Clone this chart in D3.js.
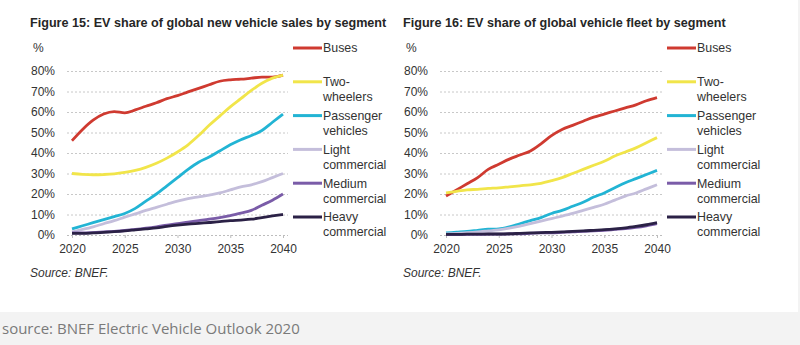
<!DOCTYPE html>
<html>
<head>
<meta charset="utf-8">
<script src="https://cdnjs.cloudflare.com/ajax/libs/d3/7.8.5/d3.min.js"></script>
<style>
  html, body { margin: 0; padding: 0; background: #f3f3f3; }
  svg { display: block; }
  .tick text { font-family: Arial, "Liberation Sans", sans-serif; font-size: 12px; fill: #333; }
  .grid .tick line { stroke: #c8c8c8; stroke-dasharray: 2,2; }
  .lbl { font-family: Arial, "Liberation Sans", sans-serif; font-size: 12px; fill: #333; }
</style>
</head>
<body>
<svg id="chart" width="800" height="345"></svg>
<script>
/* data: values, one value per year 2020..2040 */
var years = d3.range(2020, 2041);
var yTicks = [0, 10, 20, 30, 40, 50, 60, 70, 80];
var xTicks = [2020, 2025, 2030, 2035, 2040];

var segments = ["Buses", "Two-wheelers", "Passenger vehicles", "Light commercial", "Medium commercial", "Heavy commercial"];
var legendLines = [["Buses"], ["Two-", "wheelers"], ["Passenger", "vehicles"], ["Light", "commercial"], ["Medium", "commercial"], ["Heavy", "commercial"]];
var colors = ["#cf3a30", "#f1e54a", "#22b4d4", "#c4bedb", "#7a5ca8", "#2b2146"];

// Figure 15: new vehicle sales
var salesBuses     = [46, 51.5, 56, 59, 60.2, 59.6, 61, 62.8, 64.5, 66.5, 68, 69.8, 71.5, 73.3, 75, 75.7, 76, 76.5, 77, 77, 78];
var salesTwo       = [30, 29.6, 29.4, 29.5, 29.8, 30.5, 31.5, 33, 35, 37.5, 40.5, 44, 48.5, 53.5, 58, 62.5, 66.5, 70.5, 74, 76.5, 78];
var salesPassenger = [3, 4.5, 6, 7.5, 9, 10.5, 13, 16.5, 20, 24, 28, 32, 35.5, 38, 41, 44, 46.5, 48.5, 51, 55, 59];
var salesLight     = [1.5, 2.7, 4, 5.5, 7, 8.7, 10.3, 12, 13.5, 15, 16.5, 17.7, 18.6, 19.5, 20.5, 22, 23.5, 24.5, 26, 28, 30];
var salesMedium    = [1, 1, 1.2, 1.5, 1.8, 2.2, 2.7, 3.3, 4, 4.8, 5.5, 6.3, 7, 7.7, 8.5, 9.5, 10.7, 12, 14.5, 17, 20];
var salesHeavy     = [0.8, 0.8, 1, 1.3, 1.6, 2, 2.5, 3, 3.5, 4.2, 4.8, 5.3, 5.7, 6.1, 6.5, 7, 7.3, 7.7, 8.5, 9.3, 10];

// Figure 16: vehicle fleet
var fleetBuses     = [19, 22, 25, 28, 32, 34.5, 37, 39, 41, 44.5, 48.5, 51.5, 53.5, 55.5, 57.5, 59, 60.5, 62, 63.5, 65.5, 67];
var fleetTwo       = [20.5, 21.3, 22, 22.3, 22.7, 23, 23.5, 24, 24.5, 25.2, 26.5, 28, 30, 32, 34, 36, 38.5, 40.5, 42.5, 45, 47.5];
var fleetPassenger = [1, 1.4, 1.8, 2.3, 2.8, 3, 4, 5.5, 7, 8.5, 10.5, 12, 14, 16, 18.5, 20.5, 23, 25.5, 27.5, 29.5, 31.5];
var fleetLight     = [0.5, 0.8, 1.1, 1.5, 2, 2.5, 3.3, 4.3, 5.5, 6.8, 8, 9.2, 10.5, 12, 13.5, 15, 17, 19, 20.5, 22.5, 24.5];
var fleetMedium    = [0.2, 0.2, 0.3, 0.3, 0.4, 0.4, 0.5, 0.6, 0.8, 1, 1.1, 1.3, 1.5, 1.8, 2, 2.3, 2.7, 3.1, 3.7, 4.5, 5.5];
var fleetHeavy     = [0.3, 0.3, 0.4, 0.4, 0.5, 0.5, 0.6, 0.8, 1, 1.2, 1.3, 1.5, 1.8, 2, 2.3, 2.6, 3, 3.5, 4.2, 5, 6];

var charts = [
  { title: "Figure 15: EV share of global new vehicle sales by segment",
    left: 30, x0: 72, x1: 283, gridL: 67, gridR: 288, legX: 293,
    series: [salesBuses, salesTwo, salesPassenger, salesLight, salesMedium, salesHeavy] },
  { title: "Figure 16: EV share of global vehicle fleet by segment",
    left: 403, x0: 446, x1: 657, gridL: 440, gridR: 662, legX: 667,
    series: [fleetBuses, fleetTwo, fleetPassenger, fleetLight, fleetMedium, fleetHeavy] }
];

var svg = d3.select("#chart");

// white panel, grey page strip below
svg.append("rect").attr("x", 0).attr("y", 0).attr("width", 798).attr("height", 312).attr("fill", "#fff");

var yScale = d3.scaleLinear().domain([0, 80]).range([235, 71]);

charts.forEach(function (c) {
  var g = svg.append("g");

  g.append("text").attr("class", "lbl")
    .attr("x", c.left).attr("y", 26.5)
    .style("font-weight", "bold").style("font-size", "12.6px").style("fill", "#262626")
    .text(c.title);

  g.append("text").attr("class", "lbl")
    .attr("x", c.left + 3).attr("y", 52)
    .text("%");

  var xScale = d3.scaleLinear().domain([2020, 2040]).range([c.x0, c.x1]);

  // y grid + labels
  var yAxis = d3.axisLeft(yScale)
    .tickValues(yTicks)
    .tickSize(-(c.gridR - c.gridL))
    .tickPadding(12)
    .tickFormat(function (d) { return d + "%"; });

  var yG = g.append("g").attr("class", "grid")
    .attr("transform", "translate(" + c.gridL + ",0)")
    .call(yAxis);
  yG.select(".domain").remove();
  yG.selectAll(".tick").filter(function (d) { return d === 0; }).select("line")
    .style("stroke", "#bdbdbd").style("stroke-dasharray", null);

  // x axis
  var xAxis = d3.axisBottom(xScale)
    .tickValues(xTicks)
    .tickSize(3)
    .tickPadding(6.5)
    .tickFormat(d3.format("d"));
  var xG = g.append("g")
    .attr("transform", "translate(0,235)")
    .call(xAxis);
  xG.select(".domain").remove();
  xG.selectAll(".tick line").style("stroke", "#bdbdbd");

  // lines
  var line = d3.line()
    .x(function (d, i) { return xScale(years[i]); })
    .y(function (d) { return yScale(d); })
    .curve(d3.curveMonotoneX);

  c.series.forEach(function (s, i) {
    g.append("path")
      .datum(s)
      .attr("fill", "none")
      .attr("stroke", colors[i])
      .attr("stroke-width", 2.8)
      .attr("stroke-linejoin", "round")
      .attr("d", line);
  });

  // legend
  segments.forEach(function (name, i) {
    var ly = 48 + i * 33.8;
    g.append("line")
      .attr("x1", c.legX).attr("x2", c.legX + 29)
      .attr("y1", ly).attr("y2", ly)
      .attr("stroke", colors[i]).attr("stroke-width", 3);
    var t = g.append("text").attr("class", "lbl")
      .style("font-size", "12.4px")
      .attr("x", c.legX + 30).attr("y", ly + 4.3);
    legendLines[i].forEach(function (w, k) {
      t.append("tspan").attr("x", c.legX + 30).attr("dy", k === 0 ? 0 : 15).text(w);
    });
  });

  g.append("text").attr("class", "lbl")
    .attr("x", c.left).attr("y", 277)
    .style("font-style", "italic")
    .text("Source: BNEF.");
});

svg.append("text")
  .attr("x", 2).attr("y", 334)
  .style("font-family", "'Open Sans', sans-serif")
  .style("font-size", "15px")
  .style("fill", "#7a7a7a")
  .text("source: BNEF Electric Vehicle Outlook 2020");
</script>
</body>
</html>
